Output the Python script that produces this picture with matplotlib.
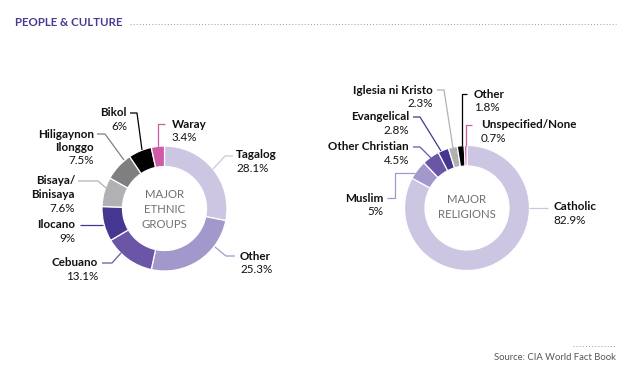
import matplotlib.pyplot as plt

plt.rcParams['font.family'] = ['Lato', 'DejaVu Sans']

# Datos
etnias = ["Tagalog", "Other", "Cebuano", "Ilocano", "Bisaya/\nBinisaya",
          "Hiligaynon\nIlonggo", "Bikol", "Waray"]
etnias_pct = [28.1, 25.3, 13.1, 9, 7.6, 7.5, 6, 3.4]

religiones = ["Catholic", "Muslim", "Other Christian", "Evangelical",
              "Iglesia ni Kristo", "Other", "Unspecified/None"]
religiones_pct = [82.9, 5, 4.5, 2.8, 2.3, 1.8, 0.7]

LAV = '#ccc6e3'
LAV2 = '#a398cb'
PUR = '#6a55a7'
DPUR = '#45368f'
GR1 = '#b1b1b3'
GR2 = '#7f7f81'
BLK = '#000000'
PINK = '#cf5aa5'

col_etnias = [LAV, LAV2, PUR, DPUR, GR1, GR2, BLK, PINK]
col_relig = [LAV, LAV2, PUR, DPUR, GR1, BLK, PINK]

W, H = 631, 376
fig = plt.figure(figsize=(W / 100, H / 100), dpi=100)
ax = fig.add_axes([0, 0, 1, 1])
ax.set_xlim(0, W)
ax.set_ylim(H, 0)
ax.axis('off')

R = 62.5
ANCHO = 20.5

# Con el eje y invertido, startangle=-90 es arriba y counterclock=True gira en sentido horario
ax.pie(etnias_pct, colors=col_etnias, center=(164.5, 208.5), radius=R,
       startangle=-90, counterclock=True, frame=True,
       wedgeprops=dict(width=ANCHO, edgecolor='white', linewidth=0.9))
ax.pie(religiones_pct, colors=col_relig, center=(467, 208), radius=R,
       startangle=-90, counterclock=True, frame=True,
       wedgeprops=dict(width=ANCHO, edgecolor='white', linewidth=0.9))
ax.set_xlim(0, W)
ax.set_ylim(H, 0)

# Etiquetas: (x, y, alineacion, lineas guia)
pos_etnias = [
    (236, 155, 'left', [(213, 169), (225, 156), (233, 156)]),
    (240, 256, 'left', [(215, 247), (226, 256), (235, 256)]),
    (98, 263, 'right', [(121, 253), (112, 263), (102, 263)]),
    (75, 225, 'right', [(80, 225), (103, 225)]),
    (75, 181, 'right', [(78, 181), (98, 181), (106, 188)]),
    (94, 134, 'right', [(97, 134), (105, 134), (124, 160)]),
    (127, 113, 'right', [(130, 113), (137, 113), (142, 150)]),
    (172, 124, 'left', [(158, 147), (158, 124), (165, 124)]),
]
pos_relig = [
    (553, 207, 'left', [(529, 208), (548, 208)]),
    (383, 198, 'right', [(387, 198), (395, 198), (395, 173), (415, 173)]),
    (409, 147, 'right', [(413, 147), (420, 147), (431, 158)]),
    (409, 117, 'right', [(413, 117), (420, 117), (441, 151)]),
    (433, 90, 'right', [(437, 90), (444, 90), (453, 148)]),
    (474, 94, 'left', [(467, 94), (462, 94), (462, 146)]),
    (481, 125, 'left', [(472, 125), (466, 125), (466, 146)]),
]

FS = 8.4
LH = 13.5


def etiquetar(nombres, valores, colores, posiciones):
    for nom, val, col, (x, y, ha, linea) in zip(nombres, valores, colores, posiciones):
        xs = [p[0] for p in linea]
        ys = [p[1] for p in linea]
        ax.plot(xs, ys, color=col, lw=0.9, solid_capstyle='butt')
        partes = nom.split('\n')
        for i, p in enumerate(partes):
            ax.text(x, y + i * LH, p, ha=ha, va='center', fontsize=FS,
                    fontweight='bold', color='#111111')
        ax.text(x, y + len(partes) * LH, f"{val:g}%", ha=ha, va='center',
                fontsize=FS, color='#111111')


etiquetar(etnias, etnias_pct, col_etnias, pos_etnias)
etiquetar(religiones, religiones_pct, col_relig, pos_relig)

# Texto central
ax.text(164.5, 209.5, "MAJOR\nETHNIC\nGROUPS", ha='center', va='center',
        fontsize=8.2, color='#707070', linespacing=1.4)
ax.text(467, 207, "MAJOR\nRELIGIONS", ha='center', va='center',
        fontsize=8.2, color='#707070', linespacing=1.4)

# Titulo
ax.text(15, 23, "PEOPLE & CULTURE", ha='left', va='center', fontsize=8.3,
        fontweight='bold', color='#4a3994')
ax.plot([130, 616], [24, 24], color='#9a9a9a', lw=0.7, linestyle=(0, (1, 2.2)))

# Fuente
ax.plot([573, 616], [346, 346], color='#9a9a9a', lw=0.7, linestyle=(0, (1, 2.2)))
ax.text(616, 358, "Source: CIA World Fact Book", ha='right', va='center',
        fontsize=6.8, color='#555555')

fig.savefig('out.png', dpi=100)
